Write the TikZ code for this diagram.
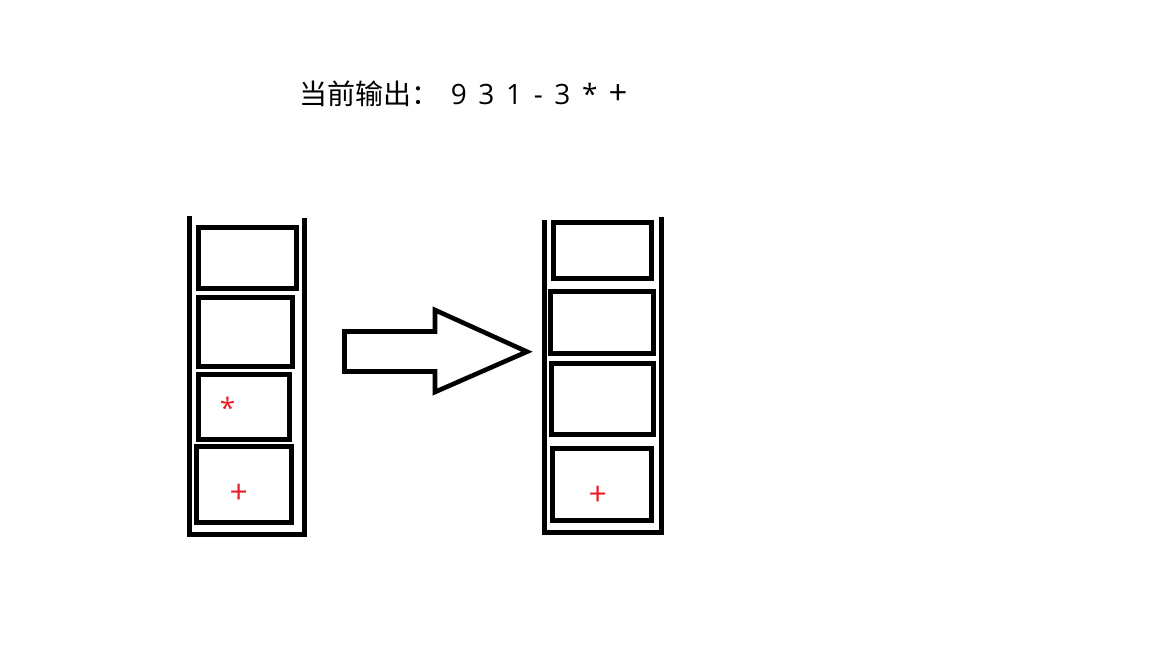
\documentclass[tikz,border=0pt]{standalone}
\usepackage{fontspec}
\setmainfont[WordSpace=1.6]{Open Sans}
\newfontfamily\cjk{Noto Sans CJK SC}
\definecolor{markred}{RGB}{235,30,40}
\tikzset{
  wall/.style={line width=4.6pt, line cap=rect},
  cell/.style={line width=4.6pt},
  redsym/.style={text=markred, inner sep=0pt},
  bigarrow/.style={line width=4.6pt, line join=miter}
}
\begin{document}
\begin{tikzpicture}[x=1pt,y=-1pt]
\useasboundingbox[fill=white] (0,0) rectangle (1152,648);
% title
\node[anchor=west, inner sep=0pt, font=\fontsize{28}{28}\selectfont] (title) at (299,94) {{\cjk 当前输出：} 9 3 1 - 3 * {\cjk\fontsize{32}{32}\selectfont +}};
% left stack
\draw[wall] (189.5,218) -- (189.5,534.5) -- (304.5,534.5) -- (304.5,220);
\draw[cell] (198.5,227.5) rectangle (296.5,288.5);
\draw[cell] (198.5,297.5) rectangle (292.5,366.5);
\draw[cell] (198.5,374.5) rectangle (289.5,439.5);
\draw[cell] (196.5,446.5) rectangle (291.5,522.5);
\node[redsym, font=\fontsize{28}{28}\selectfont] (lstar) at (227.7,408) {*};
\node[redsym, font=\cjk\fontsize{31}{31}\selectfont] (lplus) at (239,494) {+};
% arrow
\draw[bigarrow] (344.5,331.5) -- (435,331.5) -- (435,310) -- (527,351.7) -- (435,392) -- (435,371.5) -- (344.5,371.5) -- cycle;
% right stack
\draw[wall] (544.7,222) -- (544.7,532.5) -- (661.7,532.5) -- (661.7,219);
\draw[cell] (553.5,222.5) rectangle (651.5,278.5);
\draw[cell] (550.5,291.5) rectangle (653.5,353.5);
\draw[cell] (551.5,363.5) rectangle (653.5,434.5);
\draw[cell] (552.5,448.5) rectangle (651.5,520.5);
\node[redsym, font=\cjk\fontsize{31}{31}\selectfont] (rplus) at (598,496) {+};
\end{tikzpicture}
\end{document}
